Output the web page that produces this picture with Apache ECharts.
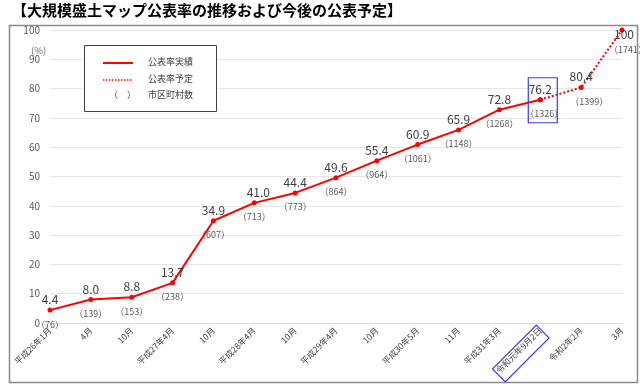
<!DOCTYPE html>
<html><head><meta charset="utf-8">
<script src="https://cdn.jsdelivr.net/npm/echarts@6/dist/echarts.min.js"></script>
<style>html,body{margin:0;padding:0;background:#fff}#c{width:640px;height:389px}</style>
</head><body><div id="c"></div>
<script>
var categories = ['平成26年1月','4月','10月','平成27年4月','10月','平成28年4月','10月','平成29年4月','10月','平成30年5月','11月','平成31年3月','令和元年9月2日','令和2年2月','3月'];
var rates = [4.4, 8.0, 8.8, 13.7, 34.9, 41.0, 44.4, 49.6, 55.4, 60.9, 65.9, 72.8, 76.2, 80.4, 100];
var counts = [76, 139, 153, 238, 607, 713, 773, 864, 964, 1061, 1148, 1268, 1326, 1399, 1741];
var lastActualIndex = 12;
var yTicks = [0, 100, 10]; // min, max, interval

var FONT = '"Noto Sans CJK JP", "Noto Sans", sans-serif';
var RED = '#ff0000';

var actual = rates.map(function(v, i){ return i <= lastActualIndex ? v : '-'; });
var planned = rates.map(function(v, i){ return i >= lastActualIndex ? v : '-'; });

var valueLabelData = rates.map(function(v, i){
  var d = {value: v};
  if (i === rates.length - 1) d.label = {offset: [2, 15]};
  if (i === 5) d.label = {offset: [4, 0]};
  return d;
});
var countLabelData = rates.map(function(v, i){
  var d = {value: v};
  if (i === rates.length - 1) d.label = {offset: [6, 6]};
  if (i === 13) d.label = {offset: [8, 0]};
  if (i === 12) d.label = {offset: [4, 0]};
  return d;
});

var chart = echarts.init(document.getElementById('c'));
chart.setOption({
  animation: false,
  textStyle: {fontFamily: FONT},
  grid: {left: 50, right: 18, top: 30, bottom: 66, containLabel: false},
  xAxis: {
    type: 'category', data: categories, boundaryGap: false,
    axisLine: {lineStyle: {color: '#d9d9d9'}},
    axisTick: {show: false},
    axisLabel: {rotate: 45, interval: 0, fontSize: 8.5, color: '#404040', margin: 6, fontFamily: FONT}
  },
  yAxis: {
    type: 'value', min: yTicks[0], max: yTicks[1], interval: yTicks[2],
    axisLine: {show: false}, axisTick: {show: false},
    splitLine: {lineStyle: {color: '#e6e6e6'}},
    axisLabel: {fontSize: 10, color: '#595959', margin: 10, fontFamily: FONT}
  },
  series: [
    {type: 'line', data: actual, symbol: 'circle', symbolSize: 5, showAllSymbol: true,
     itemStyle: {color: RED}, lineStyle: {color: RED, width: 2}, z: 3},
    {type: 'line', data: planned, symbol: 'circle', symbolSize: 5,
     itemStyle: {color: RED}, lineStyle: {color: RED, width: 2, type: [2, 2]}, z: 3},
    {type: 'line', data: valueLabelData, symbol: 'circle', symbolSize: 1, showAllSymbol: true,
     itemStyle: {color: 'rgba(0,0,0,0)'}, lineStyle: {opacity: 0}, silent: true, z: 4,
     label: {show: true, position: 'top', distance: 4, fontSize: 12, color: '#404040', fontFamily: FONT,
       formatter: function(p){ return p.value === 100 ? '100' : p.value.toFixed(1); }}},
    {type: 'line', data: countLabelData, symbol: 'circle', symbolSize: 1, showAllSymbol: true,
     itemStyle: {color: 'rgba(0,0,0,0)'}, lineStyle: {opacity: 0}, silent: true, z: 4,
     label: {show: true, position: 'bottom', distance: 9, fontSize: 9, color: '#595959', fontFamily: FONT,
       formatter: function(p){ return '（' + counts[p.dataIndex] + '）'; }}}
  ]
});

var pt = chart.convertToPixel({gridIndex: 0}, [lastActualIndex, rates[lastActualIndex]]);
var tickX = pt[0];
chart.setOption({
  graphic: [
    {type: 'rect', left: 7, top: 23, shape: {width: 628, height: 357}, style: {fill: 'none', stroke: '#8c8c8c', lineWidth: 1.5}, z: -1},
    {type: 'text', left: 12, top: 3, style: {text: '【大規模盛土マップ公表率の推移および今後の公表予定】', font: 'bold 15px ' + FONT, fill: '#000'}},
    {type: 'text', left: 31, top: 46, style: {text: '(%)', font: '9.5px ' + FONT, fill: '#7f6f60'}},
    {type: 'rect', left: 84, top: 45, shape: {width: 132, height: 66}, style: {fill: '#fff', stroke: '#404040', lineWidth: 1}, z: 10},
    {type: 'line', shape: {x1: 103, y1: 63, x2: 133, y2: 63}, style: {stroke: RED, lineWidth: 2}, z: 11},
    {type: 'line', shape: {x1: 103, y1: 80, x2: 133, y2: 80}, style: {stroke: RED, lineWidth: 1.5, lineDash: [1.5, 1.5]}, z: 11},
    {type: 'text', x: 109, y: 90, style: {text: '（　）', font: '9px ' + FONT, fill: '#404040'}, z: 11},
    {type: 'text', x: 148, y: 57, style: {text: '公表率実績', font: '9px ' + FONT, fill: '#404040'}, z: 11},
    {type: 'text', x: 148, y: 74, style: {text: '公表率予定', font: '9px ' + FONT, fill: '#404040'}, z: 11},
    {type: 'text', x: 148, y: 90, style: {text: '市区町村数', font: '9px ' + FONT, fill: '#404040'}, z: 11},
    {type: 'rect', x: pt[0] - 12, y: pt[1] - 22, shape: {width: 29, height: 45}, style: {fill: 'none', stroke: '#3a3aff', lineWidth: 1.2}, z: 12},
    {type: 'rect', x: tickX - 19.5, y: 353.5, rotation: Math.PI / 4, shape: {x: -31, y: -9, width: 62, height: 18}, style: {fill: 'none', stroke: '#3a3aff', lineWidth: 1.2}, z: 12}
  ]
});
</script>
</body></html>
